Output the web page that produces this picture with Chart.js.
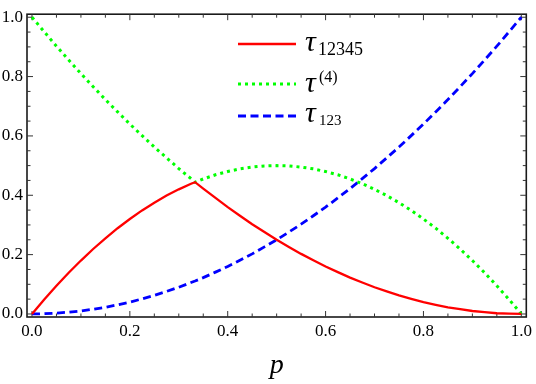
<!DOCTYPE html>
<html>
<head>
<meta charset="utf-8">
<script src="https://cdn.jsdelivr.net/npm/chart.js@4.4.1/dist/chart.umd.min.js"></script>
<style>
html, body { margin: 0; padding: 0; background: #fff; }
#wrap { width: 536px; height: 384px; }
</style>
</head>
<body>
<div id="wrap"><canvas id="graphTau"></canvas></div>
<script>
// p values along the x axis (0.3333 is where the curves meet)
var pValues = [0, 0.025, 0.05, 0.075, 0.1, 0.125, 0.15, 0.175, 0.2, 0.225, 0.25, 0.275, 0.3, 0.325, 0.3333,
    0.35, 0.375, 0.4, 0.425, 0.45, 0.475, 0.5, 0.525, 0.55, 0.575, 0.6, 0.625, 0.65, 0.675, 0.7, 0.725, 0.75,
    0.775, 0.8, 0.825, 0.85, 0.875, 0.9, 0.925, 0.95, 0.975, 1];

// series
var tau12345 = [0, 0.049, 0.095, 0.139, 0.18, 0.219, 0.255, 0.289, 0.32, 0.349, 0.375, 0.399, 0.42, 0.439, 0.444,
    0.4225, 0.391, 0.36, 0.331, 0.3025, 0.276, 0.25, 0.226, 0.2025, 0.181, 0.16, 0.141, 0.1225, 0.106, 0.09, 0.076, 0.0625,
    0.051, 0.04, 0.031, 0.0225, 0.016, 0.01, 0.006, 0.0025, 0.001, 0];
var tau4 = [1, 0.951, 0.9025, 0.856, 0.81, 0.766, 0.7225, 0.681, 0.64, 0.601, 0.5625, 0.526, 0.49, 0.456, 0.444,
    0.455, 0.469, 0.48, 0.489, 0.495, 0.499, 0.5, 0.499, 0.495, 0.489, 0.48, 0.469, 0.455, 0.439, 0.42, 0.399, 0.375,
    0.349, 0.32, 0.289, 0.255, 0.219, 0.18, 0.139, 0.095, 0.049, 0];
var tau123 = [0, 0.001, 0.003, 0.006, 0.01, 0.016, 0.0225, 0.031, 0.04, 0.051, 0.0625, 0.076, 0.09, 0.106, 0.111,
    0.1225, 0.141, 0.16, 0.181, 0.2025, 0.226, 0.25, 0.276, 0.3025, 0.331, 0.36, 0.391, 0.4225, 0.456, 0.49, 0.526, 0.5625,
    0.601, 0.64, 0.681, 0.7225, 0.766, 0.81, 0.856, 0.9025, 0.951, 1];

// ticks: minor every 0.05, labels on the major ones
var tickValues = [0, 0.05, 0.1, 0.15, 0.2, 0.25, 0.3, 0.35, 0.4, 0.45, 0.5, 0.55, 0.6, 0.65, 0.7, 0.75, 0.8, 0.85, 0.9, 0.95, 1];
var majorValues = [0, 0.2, 0.4, 0.6, 0.8, 1];
var majorLabels = ['0.0', '0.2', '0.4', '0.6', '0.8', '1.0'];

// legend text
var legendSymbol = 'τ';
var legendIndex = ['12345', '(4)', '123'];
var axisTitle = 'p';

var serif = '"Liberation Serif", "DejaVu Serif", serif';

function majorIndex(v) {
    for (var i = 0; i < majorValues.length; i++) {
        if (Math.abs(majorValues[i] - v) < 1e-6) return i;
    }
    return -1;
}

function toPoints(values) {
    return pValues.map(function(p, i) { return {x: p, y: values[i]}; });
}

function setTicks(scale) {
    scale.ticks = tickValues.map(function(v) { return {value: v}; });
}

function tickLabel(value) {
    var i = majorIndex(value);
    return i >= 0 ? majorLabels[i] : '';
}

/**
 * Frame round the plot with inward ticks on all four sides
 */
var framePlugin = {
    id: 'frame',
    beforeDatasetsDraw: function(chart) {
        var ctx = chart.ctx, a = chart.chartArea;
        var xs = chart.scales.x, ys = chart.scales.y;
        ctx.save();
        ctx.strokeStyle = '#1a1a1a';
        ctx.lineWidth = 1.6;
        ctx.strokeRect(a.left, a.top, a.right - a.left, a.bottom - a.top);
        ctx.lineWidth = 1;
        ctx.strokeStyle = '#333';
        ctx.beginPath();
        tickValues.forEach(function(v) {
            var len = majorIndex(v) >= 0 ? 6 : 3.5;
            var px = xs.getPixelForValue(v);
            ctx.moveTo(px, a.bottom); ctx.lineTo(px, a.bottom - len);
            ctx.moveTo(px, a.top); ctx.lineTo(px, a.top + len);
            var py = ys.getPixelForValue(v);
            ctx.moveTo(a.left, py); ctx.lineTo(a.left + len, py);
            ctx.moveTo(a.right, py); ctx.lineTo(a.right - len, py);
        });
        ctx.stroke();
        ctx.restore();
    }
};

/**
 * Legend with sub and superscripts, plus the axis title
 */
var legendPlugin = {
    id: 'tauLegend',
    afterDraw: function(chart) {
        var ctx = chart.ctx;
        var lineY = [44, 84, 116];
        var tauBase = [51, 92, 122];
        var scriptSize = [18, 16, 15];
        var scriptX = [318, 319, 319];
        var scriptBase = [55, 82, 125];
        chart.data.datasets.forEach(function(ds, i) {
            ctx.save();
            ctx.strokeStyle = ds.borderColor;
            ctx.lineWidth = ds.borderWidth;
            ctx.setLineDash(ds.borderDash || []);
            ctx.beginPath();
            ctx.moveTo(238, lineY[i]);
            ctx.lineTo(296, lineY[i]);
            ctx.stroke();
            ctx.setLineDash([]);
            ctx.fillStyle = '#000';
            ctx.textBaseline = 'alphabetic';
            ctx.font = 'italic 30px ' + serif;
            ctx.fillText(legendSymbol, 305, tauBase[i]);
            ctx.font = scriptSize[i] + 'px ' + serif;
            ctx.fillText(legendIndex[i], scriptX[i], scriptBase[i]);
            ctx.restore();
        });

        var xs = chart.scales.x;
        ctx.save();
        ctx.fillStyle = '#000';
        ctx.font = 'italic 28px ' + serif;
        ctx.textAlign = 'center';
        ctx.textBaseline = 'alphabetic';
        ctx.fillText(axisTitle, xs.getPixelForValue(0.5), 373);
        ctx.restore();
    }
};

var ctxTau = document.getElementById('graphTau').getContext('2d');
var tickFont = {family: serif, size: 17};

new Chart(ctxTau, {
    type: 'line',
    data: {
        datasets: [{
            label: 'τ12345',
            data: toPoints(tau12345),
            borderColor: 'rgb(255, 0, 0)',
            borderWidth: 2.3,
            pointRadius: 0,
            tension: 0
        }, {
            label: 'τ(4)',
            data: toPoints(tau4),
            borderColor: 'rgb(0, 255, 0)',
            borderWidth: 3,
            borderDash: [3, 4],
            pointRadius: 0,
            tension: 0
        }, {
            label: 'τ123',
            data: toPoints(tau123),
            borderColor: 'rgb(0, 0, 255)',
            borderWidth: 2.8,
            borderDash: [8, 4.5],
            pointRadius: 0,
            tension: 0
        }]
    },
    options: {
        animation: false,
        responsive: true,
        maintainAspectRatio: false,
        layout: {padding: {top: 6, right: 7, left: 0, bottom: 0}},
        plugins: {legend: {display: false}, tooltip: {enabled: false}},
        scales: {
            x: {
                type: 'linear',
                min: -0.0102,
                max: 1.0102,
                afterBuildTicks: setTicks,
                afterFit: function(scale) { scale.height = 67; },
                grid: {display: false, drawTicks: false},
                border: {display: false},
                ticks: {callback: tickLabel, font: tickFont, color: '#000', padding: 4, autoSkip: false, maxRotation: 0}
            },
            y: {
                type: 'linear',
                min: -0.0102,
                max: 1.0102,
                afterBuildTicks: setTicks,
                afterFit: function(scale) { scale.width = 27; },
                grid: {display: false, drawTicks: false},
                border: {display: false},
                ticks: {callback: tickLabel, font: tickFont, color: '#000', padding: 4, autoSkip: false}
            }
        }
    },
    plugins: [framePlugin, legendPlugin]
});
</script>
</body>
</html>
